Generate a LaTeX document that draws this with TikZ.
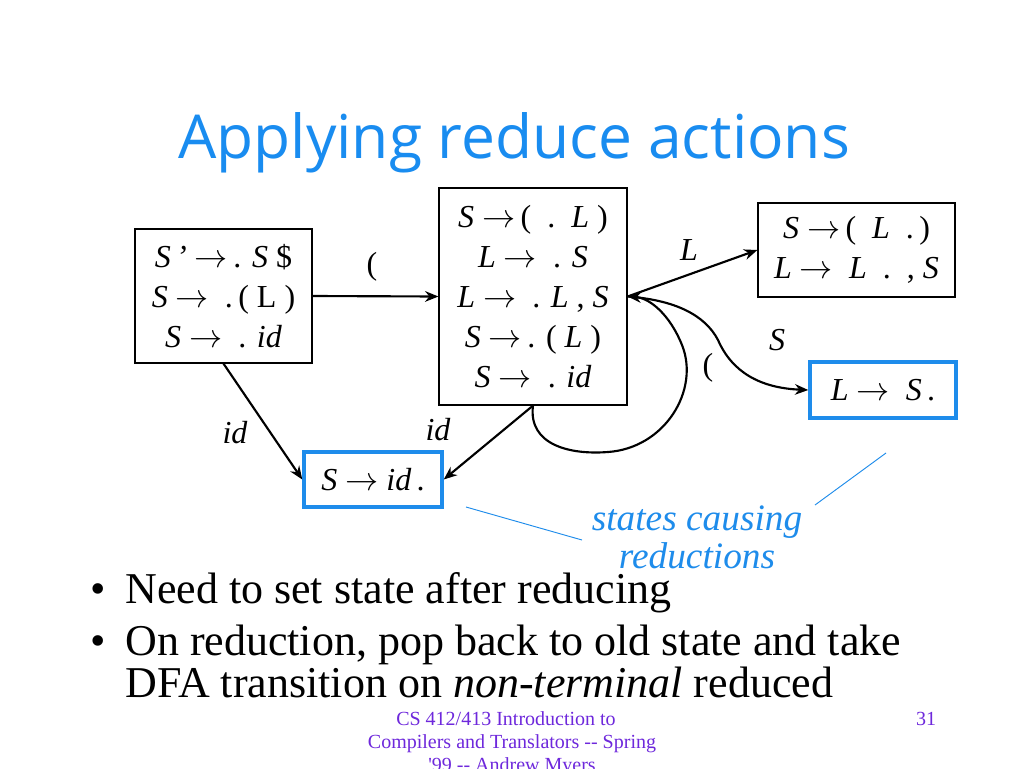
\documentclass[tikz,border=0pt]{standalone}
\usepackage{fontspec}
\setmainfont{Liberation Serif}
\newfontfamily\titlefont{Open Sans}
\usetikzlibrary{arrows.meta}
\definecolor{ttlblue}{RGB}{25,140,240}
\definecolor{boxblue}{RGB}{30,140,235}
\definecolor{footpurple}{RGB}{110,40,220}
\newcommand{\ar}{\ensuremath{\rightarrow}}
\begin{document}
\begin{tikzpicture}[x=0.75pt,y=-0.75pt,
  state/.style={draw=black,line width=0.9pt,inner sep=0pt,align=center,
    font=\fontsize{24}{30}\selectfont},
  redstate/.style={draw=boxblue,line width=2.6pt,inner sep=0pt,align=center,
    font=\fontsize{24}{30}\selectfont},
  trans/.style={line width=1.6pt,-{Stealth[length=10pt,width=8pt]}},
  lbl/.style={font=\fontsize{24}{30}\selectfont\itshape,inner sep=0pt},
  callout/.style={draw=boxblue,line width=0.7pt},
  bodytext/.style={anchor=base west,inner sep=0pt,font=\fontsize{33}{40}\selectfont},
  foot/.style={anchor=base,inner sep=0pt,text=footpurple,font=\fontsize{15}{18}\selectfont}]
\useasboundingbox (0,0) rectangle (1024,768);
\fill[white] (0,0) rectangle (1024,768);

% title
\node[anchor=base west,inner sep=0pt,text=ttlblue,font=\titlefont\fontsize{45.4}{54}\selectfont] (title) at (178,158) {Applying reduce actions};

% states
\node[state,minimum width={177*0.75pt},minimum height={134*0.75pt}] (A) at (223.5,296)
  {\textit{S\,’} \ar\,. \textit{S} \$\\ \textit{S} \ar\ \ .\,( L )\\ \textit{S} \ar\ \ . \textit{id}};
\node[state,minimum width={188*0.75pt},minimum height={217*0.75pt}] (B) at (533,296.5)
  {\textit{S} \ar\,(\ \ .\ \ \textit{L} )\\ \textit{L} \ar\ \ . \textit{S}\\ \textit{L} \ar\ \ . \textit{L} , \textit{S}\\ \textit{S} \ar\,. ( \textit{L} )\\ \textit{S} \ar\ \ . \textit{id}};
\node[state,minimum width={197*0.75pt},minimum height={94*0.75pt}] (C) at (856.5,250)
  {\textit{S} \ar\,(\ \ \textit{L}\ \ .\,)\\ \textit{L} \ar\ \ \textit{L}\ \ .\ \ , \textit{S}};
\node[redstate,minimum width={146*0.75pt},minimum height={56*0.75pt}] (D) at (883,390)
  {\textit{L} \ar\ \ \textit{S}\,.};
\node[redstate,minimum width={138*0.75pt},minimum height={55*0.75pt}] (E) at (373,479.5)
  {\textit{S} \ar\ \textit{id}\,.};

% transitions
\draw[trans] (A.east) -- (B.west);
\node[lbl,font=\fontsize{24}{30}\selectfont] (lp1) at (372,267) {(};
\draw[trans] (B.east) -- (C.west);
\node[lbl] (lL) at (689,250) {L};
\draw[trans] (B.east) .. controls (675,300) and (705,315) .. (718,340)
  .. controls (732,372) and (760,388) .. (D.west);
\node[lbl] (lS) at (777,340) {S};
\draw[trans] (B.south) .. controls (528,445) and (570,455) .. (608,452)
  .. controls (665,448) and (700,390) .. (682,345)
  .. controls (670,315) and (650,298) .. (B.east);
\node[lbl,font=\fontsize{24}{30}\selectfont] (lp2) at (708,368) {(};
\draw[trans] (A.south) -- (E.west);
\node[lbl] (lid1) at (235,433) {id};
\draw[trans] (B.south) -- (E.east);
\node[lbl] (lid2) at (438,430) {id};

% callout
\node[align=center,text=boxblue,inner sep=0pt,font=\fontsize{28}{28.5}\selectfont\itshape] (note) at (697,537) {states causing\\reductions};
\coordinate (c1) at (466,507);
\coordinate (c1e) at (582,540);
\coordinate (c2) at (886,453);
\coordinate (c2e) at (815,505);
\draw[callout] (c1) -- (c1e);
\draw[callout] (c2) -- (c2e);

% bullets
\node[bodytext] (b1) at (90,603) {•};
\node[bodytext] (t1) at (125,603) {Need to set state after reducing};
\node[bodytext] (b2) at (90,655) {•};
\node[bodytext] (t2) at (125,655) {On reduction, pop back to old state and take};
\node[bodytext] (t3) at (125,697) {DFA transition on \textit{non-terminal} reduced};

% footer
\node[foot] (f1) at (506,725) {CS 412/413 Introduction to};
\node[foot] (f2) at (512,748) {Compilers and Translators -{}- Spring};
\node[foot] (f3) at (512,771) {\textquotesingle 99 -{}- Andrew Myers};
\node[foot] (pg) at (926,725) {31};
\end{tikzpicture}
\end{document}
